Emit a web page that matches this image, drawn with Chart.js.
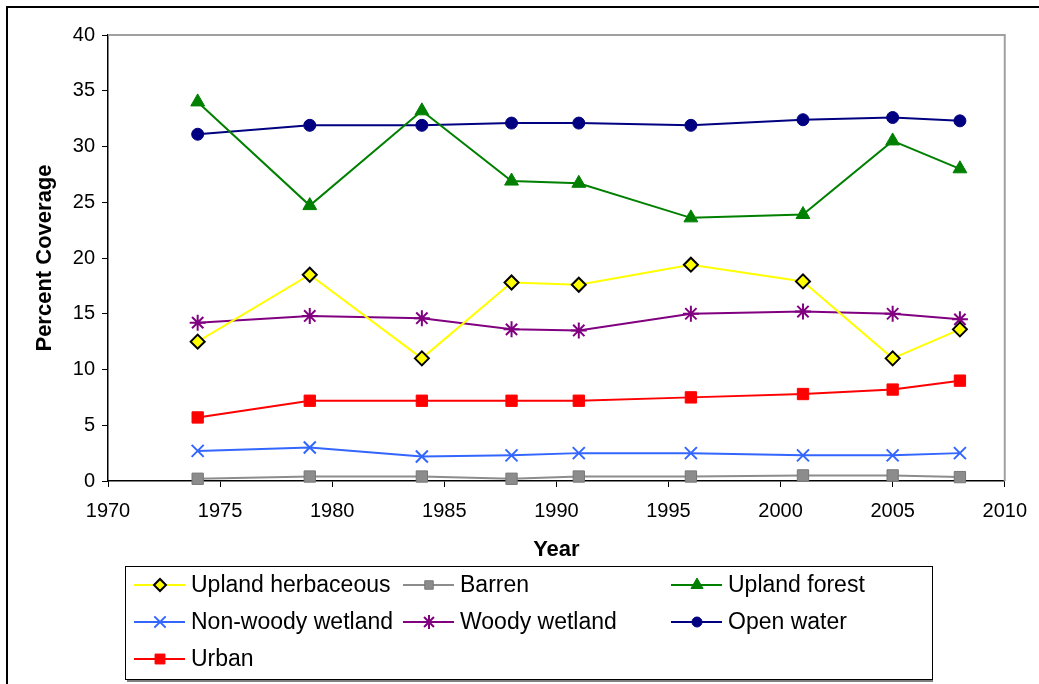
<!DOCTYPE html>
<html>
<head>
<meta charset="utf-8">
<script src="https://cdn.jsdelivr.net/npm/chart.js@4"></script>
<style>
  body { margin: 0; background: #fff; }
  #wrap { width: 1039px; height: 684px; position: relative; }
</style>
</head>
<body>
<div id="wrap"><canvas id="chart" width="1039" height="684"></canvas></div>
<script>
// datos
const years = [1974, 1979, 1984, 1988, 1991, 1996, 2001, 2005, 2008];
const uplandHerbaceous = [12.5, 18.5, 11.0, 17.8, 17.6, 19.4, 17.9, 11.0, 13.6];
const barren           = [0.2, 0.4, 0.4, 0.2, 0.4, 0.4, 0.5, 0.5, 0.35];
const uplandForest     = [34.0, 24.7, 33.2, 26.9, 26.7, 23.6, 23.9, 30.5, 28.0];
const nonWoodyWetland  = [2.7, 3.0, 2.2, 2.3, 2.5, 2.5, 2.3, 2.3, 2.5];
const woodyWetland     = [14.2, 14.8, 14.6, 13.6, 13.5, 15.0, 15.2, 15.0, 14.5];
const openWater        = [31.1, 31.9, 31.9, 32.1, 32.1, 31.9, 32.4, 32.6, 32.3];
const urban            = [5.7, 7.2, 7.2, 7.2, 7.2, 7.5, 7.8, 8.2, 9.0];
const xTicks = [1970, 1975, 1980, 1985, 1990, 1995, 2000, 2005, 2010];
const yTicks = [0, 5, 10, 15, 20, 25, 30, 35, 40];

const FONT = "'Liberation Sans', Arial, sans-serif";

function pts(values) {
  return years.map((y, i) => ({ x: y, y: values[i] }));
}

function serie(label, values, color, style, fill, border, radius, legendRadius) {
  return {
    label: label,
    data: pts(values),
    borderColor: color,
    borderWidth: 2,
    pointStyle: style,
    pointRadius: radius,
    pointHoverRadius: radius,
    pointBackgroundColor: fill,
    pointBorderColor: border,
    pointBorderWidth: (style === 'rectRot' || style === 'crossRot' || style === 'star') ? 2 : 1,
    legendRadius: legendRadius,
    tension: 0,
    clip: false
  };
}

const datasets = [
  serie('Upland herbaceous', uplandHerbaceous, '#FFFF00', 'rectRot', '#FFFF00', '#000000', 7, 6),
  serie('Barren', barren, '#8C8C8C', 'rect', '#8C8C8C', '#777777', 8, 6),
  serie('Upland forest', uplandForest, '#008000', 'triangle', '#008000', '#008000', 8, 7),
  serie('Non-woody wetland', nonWoodyWetland, '#3366FF', 'crossRot', '#3366FF', '#3366FF', 8.5, 8),
  serie('Woody wetland', woodyWetland, '#800080', 'star', '#800080', '#800080', 8, 7),
  serie('Open water', openWater, '#000080', 'circle', '#000080', '#000080', 6, 5),
  serie('Urban', urban, '#FF0000', 'rect', '#FF0000', '#FF0000', 8, 7)
];

// marco, borde del area y leyenda propia
const extras = {
  id: 'extras',
  afterDraw(chart) {
    const ctx = chart.ctx;
    const a = chart.chartArea;
    ctx.save();
    // borde gris arriba y derecha del area
    ctx.strokeStyle = '#A0A0A0';
    ctx.lineWidth = 2;
    ctx.beginPath();
    ctx.moveTo(a.left, a.top);
    ctx.lineTo(a.right, a.top);
    ctx.lineTo(a.right, a.bottom);
    ctx.stroke();
    // marco exterior
    ctx.strokeStyle = '#000';
    ctx.lineWidth = 2;
    ctx.beginPath();
    ctx.moveTo(7, 684);
    ctx.lineTo(7, 7);
    ctx.lineTo(1039, 7);
    ctx.stroke();
    // caja de leyenda
    ctx.fillStyle = '#808080';
    ctx.fillRect(127, 679, 806, 3);
    ctx.strokeStyle = '#000';
    ctx.lineWidth = 1;
    ctx.strokeRect(125.5, 566.5, 807, 113);
    const cols = [134, 403, 671];
    const rows = [585, 622, 659];
    ctx.font = '23px ' + FONT;
    ctx.textBaseline = 'middle';
    datasets.forEach((ds, i) => {
      const x = cols[i % 3];
      const y = rows[Math.floor(i / 3)];
      ctx.strokeStyle = ds.borderColor;
      ctx.lineWidth = 2;
      ctx.beginPath();
      ctx.moveTo(x, y);
      ctx.lineTo(x + 51, y);
      ctx.stroke();
      ctx.fillStyle = ds.pointBackgroundColor;
      ctx.strokeStyle = ds.pointBorderColor;
      ctx.lineWidth = ds.pointBorderWidth;
      Chart.helpers.drawPoint(ctx, {
        pointStyle: ds.pointStyle,
        radius: ds.legendRadius,
        rotation: 0,
        borderWidth: ds.pointBorderWidth
      }, x + 26, y);
      ctx.fillStyle = '#000';
      ctx.fillText(ds.label, x + 57, y + 1);
    });
    ctx.restore();
  }
};

new Chart(document.getElementById('chart'), {
  type: 'line',
  data: { datasets: datasets },
  options: {
    responsive: false,
    animation: false,
    events: [],
    layout: { padding: { left: 0, top: 35, right: 31, bottom: 121 } },
    plugins: { legend: { display: false }, tooltip: { enabled: false } },
    scales: {
      x: {
        type: 'linear',
        min: 1970,
        max: 2010,
        afterBuildTicks: s => { s.ticks = xTicks.map(v => ({ value: v })); },
        afterFit: s => { s.height = 82; },
        grid: { drawOnChartArea: false, drawTicks: true, tickLength: 6, color: '#000' },
        border: { color: '#000', width: 1.5 },
        ticks: { color: '#000', padding: 12, font: { family: FONT, size: 20 }, callback: v => String(v), maxRotation: 0 },
        title: { display: true, text: 'Year', color: '#000', padding: 0, font: { family: FONT, size: 22, weight: 'bold' } }
      },
      y: {
        min: 0,
        max: 40,
        afterBuildTicks: s => { s.ticks = yTicks.map(v => ({ value: v })); },
        afterFit: s => { s.width = 108; },
        grid: { drawOnChartArea: false, drawTicks: true, tickLength: 6, color: '#000' },
        border: { color: '#000', width: 1.5 },
        ticks: { color: '#000', padding: 7, font: { family: FONT, size: 20 }, callback: v => String(v) },
        title: { display: true, text: 'Percent Coverage', color: '#000', padding: { top: 32, bottom: 0 }, font: { family: FONT, size: 22, weight: 'bold' } }
      }
    }
  },
  plugins: [extras]
});
</script>
</body>
</html>
